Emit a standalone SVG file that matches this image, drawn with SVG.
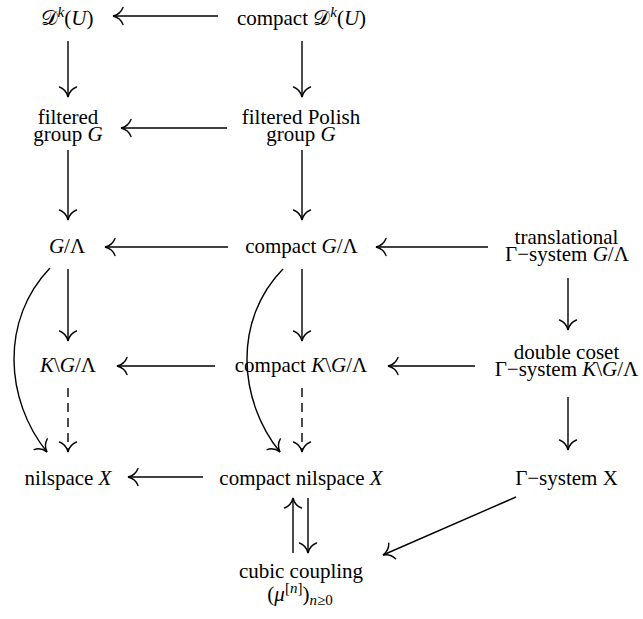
<svg xmlns="http://www.w3.org/2000/svg" width="643" height="619" viewBox="0 0 643 619">
  <style>
    text { font-family: "Liberation Serif", "DejaVu Serif", serif; font-size: 21px; fill: #000; text-anchor: middle; }
    .it { font-style: italic; }
    .cal { font-family: "DejaVu Sans", "Noto Sans", "Liberation Serif", serif; font-style: normal; }
    .sup { font-size: 15px; }
    .edge { fill: none; stroke: #000; stroke-width: 1.4; marker-end: url(#head); }
    .dash { stroke-dasharray: 9 6; }
  </style>
  <defs>
    <!-- curved open arrowhead, tip at the path end -->
    <marker id="head" markerUnits="userSpaceOnUse" markerWidth="24" markerHeight="24" viewBox="-12 -12 24 24" refX="0" refY="0" orient="auto">
      <path d="M -10,-8.5 Q -7.5,-1.8 0,0 Q -7.5,1.8 -10,8.5" fill="none" stroke="#000" stroke-width="1.4" stroke-linecap="round"/>
    </marker>
  </defs>

  <g id="connectors">
    <path class="edge" d="M 218,16 L 113,16"/>
    <path class="edge" d="M 68,41 L 68,97"/>
    <path class="edge" d="M 302,41 L 302,97"/>
    <path class="edge" d="M 227,128 L 121,128"/>
    <path class="edge" d="M 68,150 L 68,220"/>
    <path class="edge" d="M 302,150 L 302,220"/>
    <path class="edge" d="M 228,247 L 105,247"/>
    <path class="edge" d="M 488,247 L 376,247"/>
    <path class="edge" d="M 68,269 L 68,341"/>
    <path class="edge" d="M 302,269 L 302,341"/>
    <path class="edge" d="M 568,278 L 568,330"/>
    <path class="edge" d="M 215,366 L 117,366"/>
    <path class="edge" d="M 475,366 L 388,366"/>
    <path class="edge dash" d="M 68,388 L 68,452"/>
    <path class="edge dash" d="M 302,388 L 302,452"/>
    <path class="edge" d="M 50,268 C 0,320 5,400 47,452"/>
    <path class="edge" d="M 283,269 C 233,320 238,400 280,452"/>
    <path class="edge" d="M 568,397 L 568,450"/>
    <path class="edge" d="M 203,477 L 128,477"/>
    <path class="edge" d="M 293,553 L 293,498"/>
    <path class="edge" d="M 308,498 L 308,553"/>
    <path class="edge" d="M 516,497 L 383,555"/>
  </g>

  <g id="dk">
    <text x="67" y="25"><tspan class="cal">𝒟</tspan><tspan class="it sup" dy="-8">k</tspan><tspan dy="8">(</tspan><tspan class="it">U</tspan>)</text>
  </g>
  <g id="compact-dk">
    <text x="301.5" y="25">compact <tspan class="cal">𝒟</tspan><tspan class="it sup" dy="-8">k</tspan><tspan dy="8">(</tspan><tspan class="it">U</tspan>)</text>
  </g>
  <g id="filtered-group">
    <text x="68" y="124">filtered</text>
    <text x="68" y="141">group <tspan class="it">G</tspan></text>
  </g>
  <g id="filtered-polish">
    <text x="301" y="124">filtered Polish</text>
    <text x="301" y="141">group <tspan class="it">G</tspan></text>
  </g>
  <g id="quotient">
    <text x="67" y="253"><tspan class="it">G</tspan>/Λ</text>
  </g>
  <g id="compact-quotient">
    <text x="301.5" y="253">compact <tspan class="it">G</tspan>/Λ</text>
  </g>
  <g id="translational">
    <text x="566.5" y="244">translational</text>
    <text x="567" y="261">Γ−system <tspan class="it">G</tspan>/Λ</text>
  </g>
  <g id="double-quotient">
    <text x="68" y="372"><tspan class="it">K</tspan>\<tspan class="it">G</tspan>/Λ</text>
  </g>
  <g id="compact-double-quotient">
    <text x="301" y="372">compact <tspan class="it">K</tspan>\<tspan class="it">G</tspan>/Λ</text>
  </g>
  <g id="double-coset">
    <text x="566.5" y="359">double coset</text>
    <text x="566.5" y="376">Γ−system <tspan class="it">K</tspan>\<tspan class="it">G</tspan>/Λ</text>
  </g>
  <g id="nilspace">
    <text x="68" y="485">nilspace <tspan class="it">X</tspan></text>
  </g>
  <g id="compact-nilspace">
    <text x="301" y="485">compact nilspace <tspan class="it">X</tspan></text>
  </g>
  <g id="gamma-system">
    <text x="566.5" y="485">Γ−system X</text>
  </g>
  <g id="cubic-coupling">
    <text x="301" y="578">cubic coupling</text>
    <text x="300" y="601">(<tspan class="it">μ</tspan><tspan class="sup" dy="-8">[<tspan class="it">n</tspan>]</tspan><tspan dy="8">)</tspan><tspan class="sup" dy="4"><tspan class="it">n</tspan>≥0</tspan></text>
  </g>
</svg>
